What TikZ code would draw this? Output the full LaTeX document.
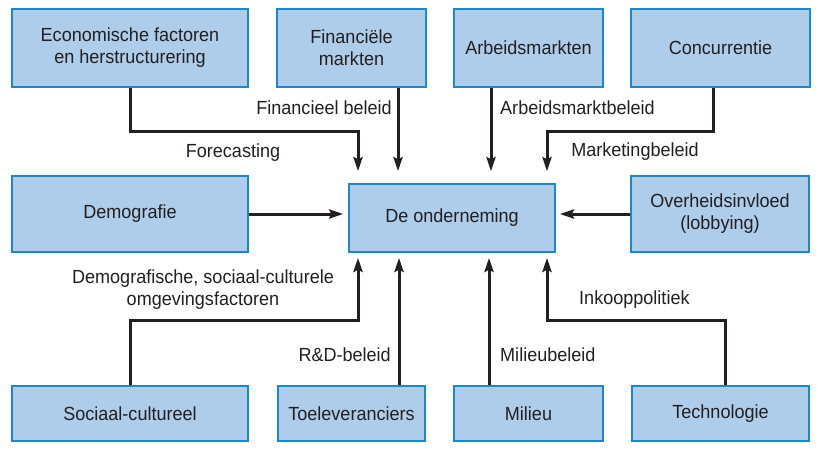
\documentclass[tikz,border=0pt]{standalone}
\usepackage{fontspec}
\setmainfont{Liberation Sans}[FakeStretch=0.95]
\usetikzlibrary{arrows.meta}
\definecolor{boxfill}{HTML}{AECDEB}
\definecolor{boxline}{HTML}{1C87C9}
\definecolor{ink}{HTML}{231F20}
\begin{document}
\begin{tikzpicture}[x=1pt,y=-1pt,
  every node/.style={text=ink,font=\fontsize{19}{22}\selectfont},
  box/.style={draw=boxline,fill=boxfill,line width=1.6pt,inner sep=0pt,align=center,anchor=center},
  conn/.style={draw=ink,line width=3pt,-{Stealth[length=14pt,width=9pt,inset=2pt]}},
  lbl/.style={inner sep=0pt,align=center}]
\useasboundingbox (0,0) rectangle (818,448);
% top row
\node[box,minimum width=236pt,minimum height=78pt] (econ) at (130,48) {Economische factoren\\en herstructurering};
\node[box,minimum width=149pt,minimum height=78pt] (fin) at (351.5,48) {Financiële\\markten};
\node[box,minimum width=149pt,minimum height=78pt] (arb) at (528.5,48) {Arbeidsmarkten};
\node[box,minimum width=179pt,minimum height=78pt] (conc) at (720.5,48) {Concurrentie};
% middle row
\node[box,minimum width=236pt,minimum height=76pt] (demo) at (130,214) {Demografie};
\node[box,minimum width=206pt,minimum height=68pt] (onder) at (452,218) {De onderneming};
\node[box,minimum width=178pt,minimum height=76pt] (overh) at (720,214) {Overheidsinvloed\\(lobbying)};
% bottom row
\node[box,minimum width=236pt,minimum height=55pt] (soc) at (130,413.5) {Sociaal-cultureel};
\node[box,minimum width=147pt,minimum height=55pt] (toe) at (351.5,413.5) {Toeleveranciers};
\node[box,minimum width=149pt,minimum height=55pt] (mil) at (528.5,413.5) {Milieu};
\node[box,minimum width=177pt,minimum height=55pt] (tech) at (720.5,413.5) {Technologie};
% coordinates
\coordinate (tA) at (358,131);
\coordinate (tB) at (547,131);
\coordinate (bA) at (358,320);
\coordinate (bB) at (547,320);
% top connectors
\draw[conn,shorten >=12pt] (econ.south) |- (tA) -- (onder.north -| tA);
\draw[conn,shorten >=12pt] (fin.south -| 398,0) -- (onder.north -| 398,0);
\draw[conn,shorten >=12pt] (arb.south -| 491,0) -- (onder.north -| 491,0);
\draw[conn,shorten >=12pt] (conc.south -| 713,0) |- (tB) -- (onder.north -| tB);
% side connectors
\draw[conn,shorten >=5pt] (demo.east) -- (demo.east -| onder.west);
\draw[conn,shorten >=4pt] (overh.west) -- (overh.west -| onder.east);
% bottom connectors
\draw[conn,shorten >=5pt] (soc.north) |- (bA) -- (onder.south -| bA);
\draw[conn,shorten >=5pt] (toe.north -| 399,0) -- (onder.south -| 399,0);
\draw[conn,shorten >=5pt] (mil.north -| 489,0) -- (onder.south -| 489,0);
\draw[conn,shorten >=5pt] (tech.north -| 725,0) |- (bB) -- (onder.south -| bB);
% labels
\node[lbl,anchor=east] (l1) at (392,108) {Financieel beleid};
\node[lbl,anchor=west] (l2) at (500,108) {Arbeidsmarktbeleid};
\node[lbl] (l3) at (233,153) {Forecasting};
\node[lbl] (l4) at (635,152) {Marketingbeleid};
\node[lbl] (l5) at (203,290) {Demografische, sociaal-culturele\\omgevingsfactoren};
\node[lbl,anchor=west] (l6) at (579,300) {Inkooppolitiek};
\node[lbl,anchor=east] (l7) at (391,355) {R\&D-beleid};
\node[lbl,anchor=west] (l8) at (500,355) {Milieubeleid};
\end{tikzpicture}
\end{document}
